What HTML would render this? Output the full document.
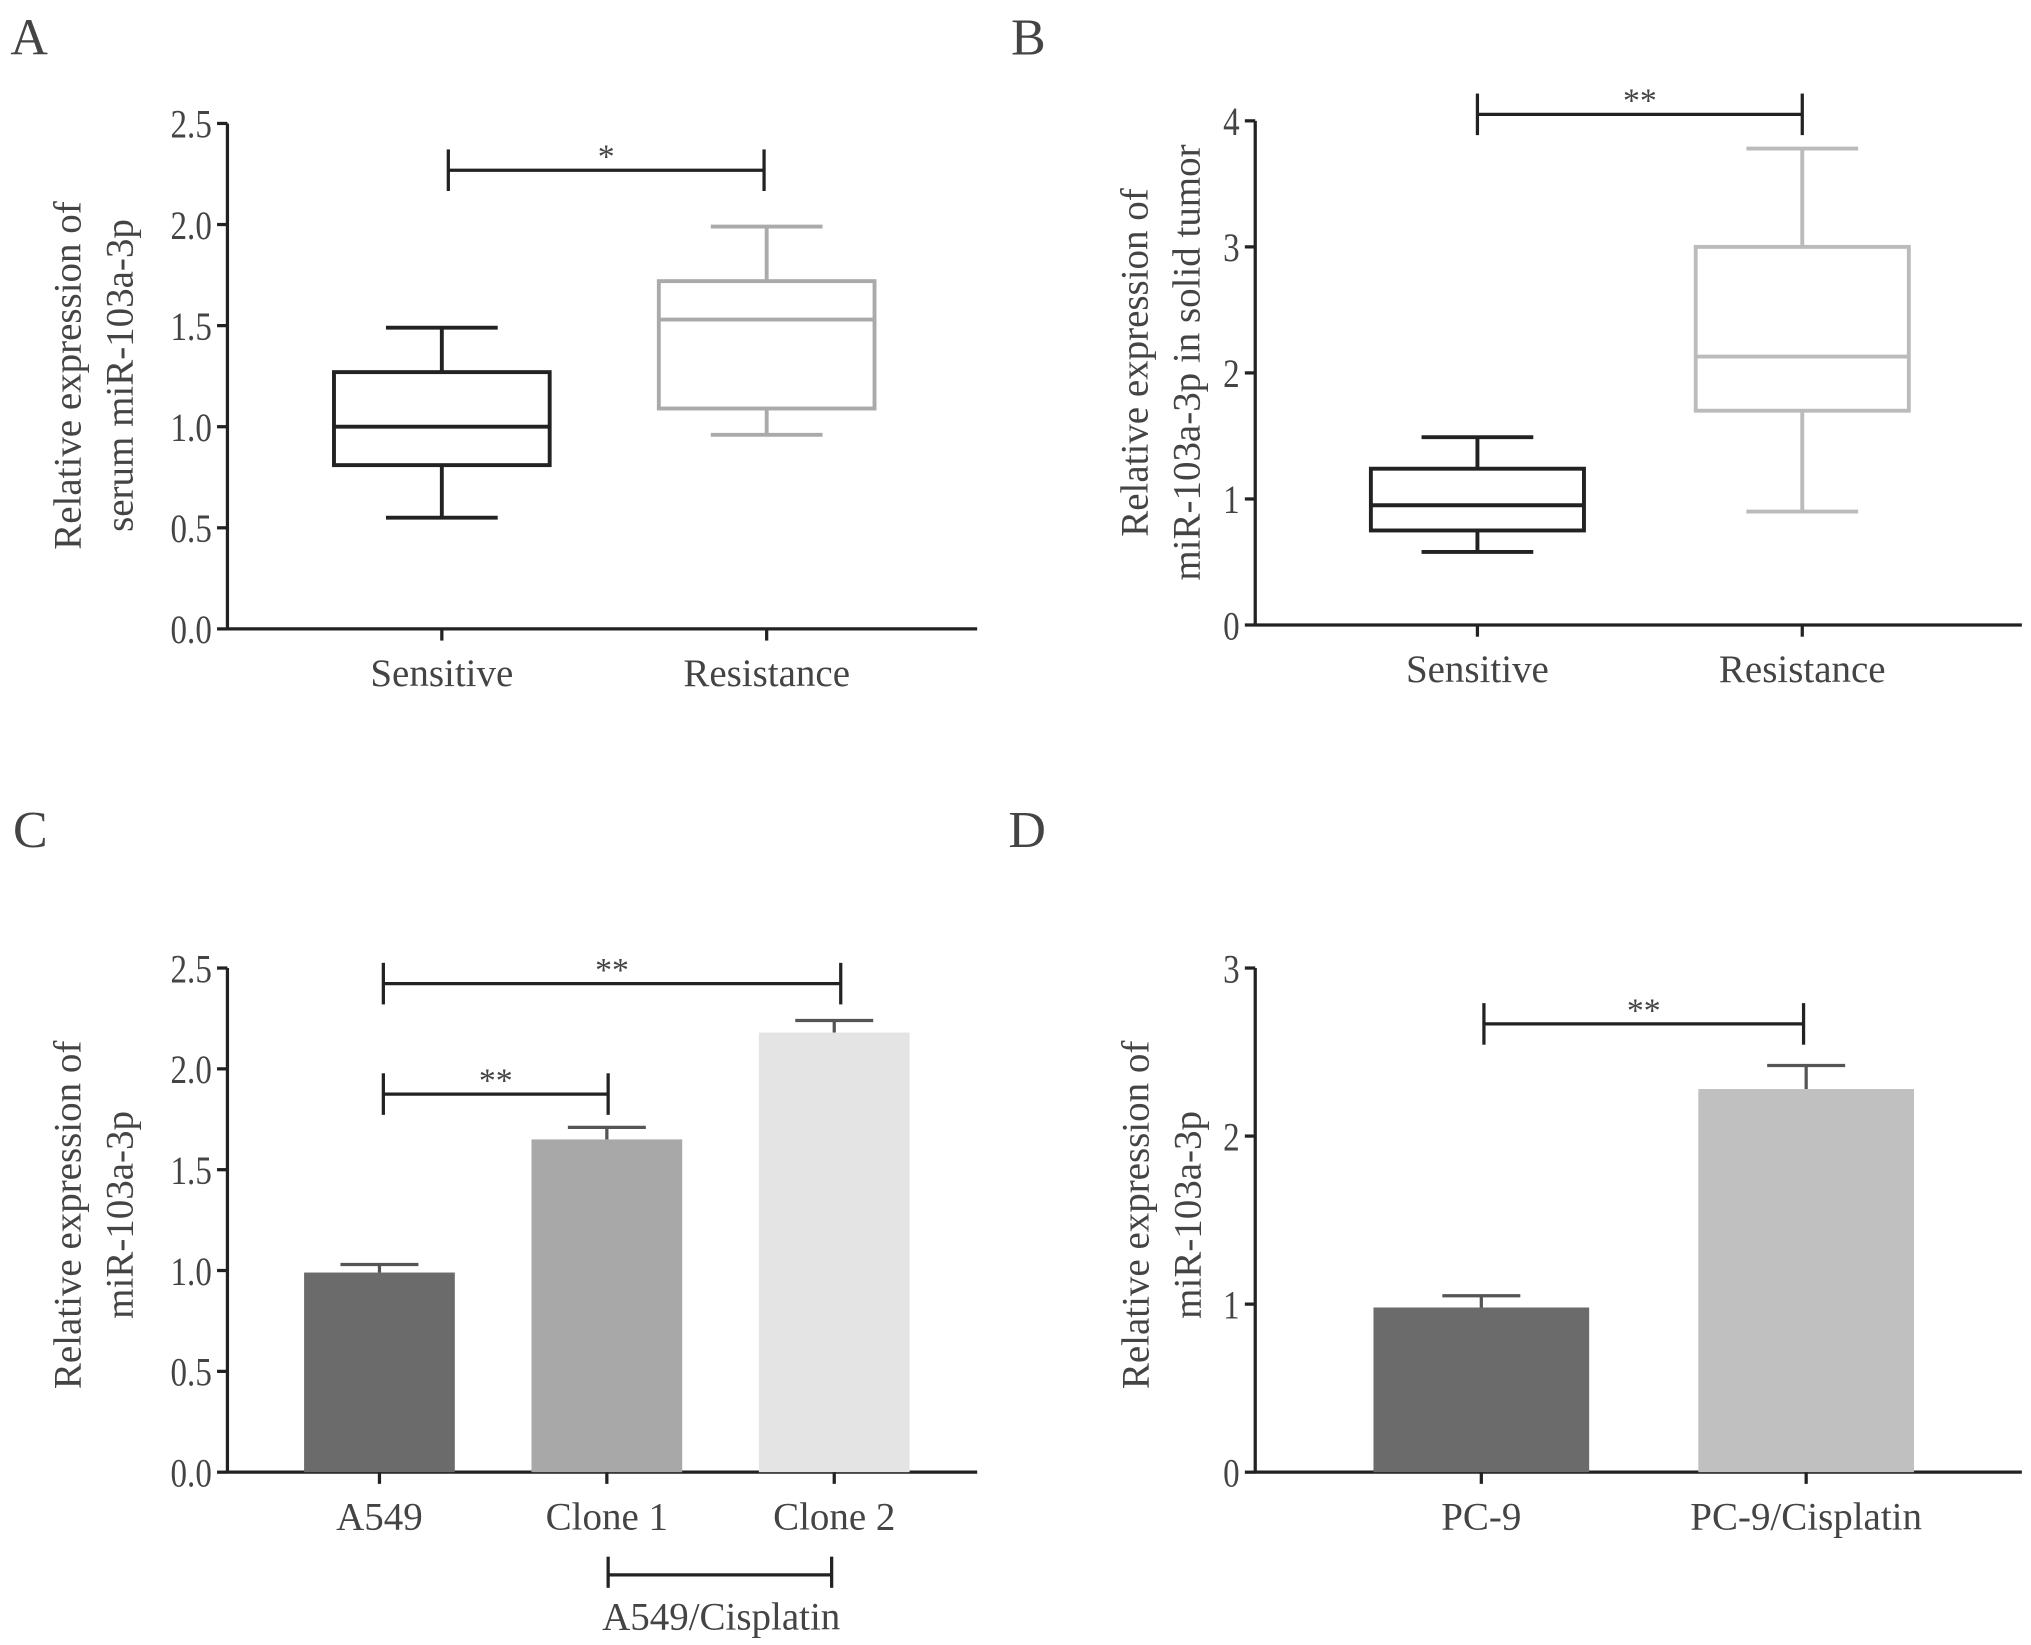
<!DOCTYPE html>
<html><head><meta charset="utf-8"><style>
html,body{margin:0;padding:0;background:#fff}
svg{display:block}
text{font-family:"Liberation Serif",serif;fill:#444}
</style></head><body>
<svg id="fig" width="2031" height="1645" viewBox="0 0 1563 1266" xmlns="http://www.w3.org/2000/svg"></svg>
<script>
// ---- data ----
const boxCatsA=["Sensitive","Resistance"];
const boxA_min=[0.55,0.96], boxA_q1=[0.81,1.09], boxA_med=[1.0,1.53], boxA_q3=[1.27,1.72], boxA_max=[1.49,1.99];
const ticksA=["0.0","0.5","1.0","1.5","2.0","2.5"];
const boxCatsB=["Sensitive","Resistance"];
const boxB_min=[0.58,0.9], boxB_q1=[0.75,1.7], boxB_med=[0.95,2.13], boxB_q3=[1.24,3.0], boxB_max=[1.49,3.78];
const ticksB=["0","1","2","3","4"];
const barCatsC=["A549","Clone 1","Clone 2"];
const barC_val=[0.99,1.65,2.18], barC_err=[0.04,0.06,0.06];
const ticksC=["0.0","0.5","1.0","1.5","2.0","2.5"];
const barCatsD=["PC-9","PC-9/Cisplatin"];
const barD_val=[0.98,2.28], barD_err=[0.07,0.14];
const ticksD=["0","1","2","3"];

const svg=document.getElementById('fig');
const NS="http://www.w3.org/2000/svg";
function mk(tag,attrs,parent,txt){const e=document.createElementNS(NS,tag);for(const k in attrs)e.setAttribute(k,attrs[k]);if(txt!==undefined)e.textContent=txt;(parent||svg).appendChild(e);return e;}
function line(x1,y1,x2,y2,c,w,p){return mk('line',{x1,y1,x2,y2,stroke:c,'stroke-width':w},p);}

function axes(g,cfg,ticks){
  const y=v=>cfg.y0-(v-cfg.vmin)/(cfg.vmax-cfg.vmin)*(cfg.y0-cfg.y1);
  const ax=mk('g',{},g);
  
  line(cfg.x0,cfg.y1,cfg.x0,cfg.y0+1,'#222',2.5,ax);
  ticks.forEach(t=>{const yy=y(parseFloat(t));line(cfg.x0-8,yy,cfg.x0,yy,'#222',2.5,ax);
    const tx=mk('text',{x:cfg.x0-12,y:yy+11,'text-anchor':'end','font-size':31,transform:`translate(${cfg.x0-12},0) scale(0.82,1) translate(${-(cfg.x0-12)},0)`},ax,t);
    });
  const xa=mk('g',{},g);
  
  line(cfg.x0,cfg.y0,cfg.xend,cfg.y0,'#222',2.5,xa);
  const ti=mk('text',{'text-anchor':'middle','font-size':30,transform:`translate(${cfg.tx},${cfg.ty}) rotate(-90)`},g);
  cfg.title.forEach((s,i)=>mk('tspan',{x:0,dy:i?40:0},ti,s));
  
  return y;
}
function xcat(g,cfg,xs,cats,y0){
  cats.forEach((c,i)=>{line(xs[i],y0,xs[i],y0+9,'#222',2.5,g);
    const t=mk('text',{x:xs[i],y:y0+44,'text-anchor':'middle','font-size':30},g,c);
    });
}
function bracket(g,x1,x2,yb,label){
  const b=mk('g',{},g);
  line(x1,yb,x2,yb,'#222',2.5,b);
  line(x1,yb-16,x1,yb+16,'#222',2.5,b);line(x2,yb-16,x2,yb+16,'#222',2.5,b);
  if(label){mk('text',{x:(x1+x2)/2,y:yb-2,'text-anchor':'middle','font-size':26},b,label);}
}
function panelLabel(x,y,s){const t=mk('text',{x,y,'font-size':40},svg,s);}

function boxPanel(name,cfg,cats,mn,q1,md,q3,mx,ticks,xs,half,colors){
  const g=mk('g',{});
  const y=axes(g,cfg,ticks);
  cats.forEach((c,i)=>{
    const b=mk('g',{},g);
    const col=colors[i],x=xs[i];
    line(x,y(mx[i]),x,y(q3[i]),col,3,b);line(x,y(q1[i]),x,y(mn[i]),col,3,b);
    line(x-43,y(mx[i]),x+43,y(mx[i]),col,3,b);line(x-43,y(mn[i]),x+43,y(mn[i]),col,3,b);
    mk('rect',{x:x-half,y:y(q3[i]),width:half*2,height:y(q1[i])-y(q3[i]),fill:'none',stroke:col,'stroke-width':3},b);
    line(x-half,y(md[i]),x+half,y(md[i]),col,3,b);
  });
  xcat(g,cfg,xs,cats,cfg.y0);
  return g;
}
function barPanel(name,cfg,cats,vals,errs,ticks,xs,half,colors){
  const g=mk('g',{});
  const y=axes(g,cfg,ticks);
  cats.forEach((c,i)=>{
    const b=mk('g',{},g);
    const x=xs[i];
    line(x,y(vals[i]),x,y(vals[i]+errs[i]),'#555',2.5,b);
    line(x-30,y(vals[i]+errs[i]),x+30,y(vals[i]+errs[i]),'#555',2.5,b);
    mk('rect',{x:x-half,y:y(vals[i]),width:half*2,height:cfg.y0-y(vals[i]),fill:colors[i]},b);
  });
  xcat(g,cfg,xs,cats,cfg.y0);
  return g;
}

panelLabel(8,42,'A');panelLabel(778,42,'B');panelLabel(10,652,'C');panelLabel(776,652,'D');

const cA={x0:175,y0:484,y1:95,vmin:0,vmax:2.5,xend:752,tx:62,ty:289,title:["Relative expression of","serum miR-103a-3p"]};
const gA=boxPanel('panel-a-boxplot',cA,boxCatsA,boxA_min,boxA_q1,boxA_med,boxA_q3,boxA_max,ticksA,[340,590],83,['#222','#aaa']);
bracket(gA,345,588,131,'*');

const cB={x0:966,y0:481,y1:93,vmin:0,vmax:4,xend:1556,tx:883,ty:279,title:["Relative expression of","miR-103a-3p in solid tumor"]};
const gB=boxPanel('panel-b-boxplot',cB,boxCatsB,boxB_min,boxB_q1,boxB_med,boxB_q3,boxB_max,ticksB,[1137,1387],82,['#222','#bbb']);
bracket(gB,1137,1387,88,'**');

const cC={x0:175,y0:1133,y1:745,vmin:0,vmax:2.5,xend:752,tx:62,ty:935,title:["Relative expression of","miR-103a-3p"]};
const gC=barPanel('panel-c-barchart',cC,barCatsC,barC_val,barC_err,ticksC,[292,467,642],58,['#6b6b6b','#a8a8a8','#e4e4e4']);
bracket(gC,295,647,757,'**');bracket(gC,295,468,842,'**');
const sb=mk('g',{},gC);
line(468,1212,640,1212,'#222',2.5,sb);line(468,1198,468,1222,'#222',2.5,sb);line(640,1198,640,1222,'#222',2.5,sb);
mk('text',{x:555,y:1254,'text-anchor':'middle','font-size':30},sb,'A549/Cisplatin');

const cD={x0:966,y0:1133,y1:745,vmin:0,vmax:3,xend:1556,tx:884,ty:935,title:["Relative expression of","miR-103a-3p"]};
const gD=barPanel('panel-d-barchart',cD,barCatsD,barD_val,barD_err,ticksD,[1140,1390],83,['#6b6b6b','#c0c0c0']);
bracket(gD,1142,1388,788,'**');
</script>
</body></html>
